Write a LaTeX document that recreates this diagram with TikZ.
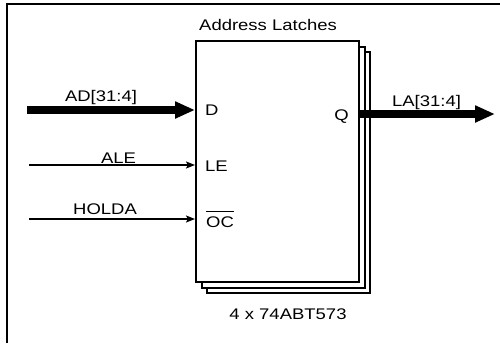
\documentclass[tikz,border=0pt]{standalone}
\usepackage{fontspec}
\setmainfont[FakeStretch=1.2]{Liberation Sans}
\usetikzlibrary{arrows.meta}
\begin{document}
\begin{tikzpicture}[x=1pt,y=-1pt,
  box/.style={draw, line width=2pt, fill=white, minimum width=163pt, minimum height=241pt, inner sep=0pt},
  lbl/.style={font=\fontsize{15.4}{18}\selectfont, inner sep=0pt, anchor=base},
  bus/.style={line width=7.5pt, -{Triangle[length=20pt,width=16pt]}},
  sig/.style={line width=1.8pt, -{Stealth[length=9pt,width=7pt,inset=2pt]}},
  frame/.style={line width=2pt}]
\useasboundingbox (0,0) rectangle (500,343);
% outer frame (top and left edges visible)
\draw[frame] (7,343) -- (7,3.5) -- (500,3.5);
% stacked latch boxes
\node[box] (b3) at (288.5,172.5) {};
\node[box] (b2) at (283.5,167.5) {};
\node[box] (latch) at (277.5,161.5) {};
% texts
\node[lbl] (title) at (268,30.5) {Address Latches};
\node[lbl] (part) at (288,319) {4 x 74ABT573};
\node[lbl] (adl) at (101,101) {AD[31:4]};
\node[lbl] (alel) at (118.5,163) {ALE};
\node[lbl] (holdal) at (105,214) {HOLDA};
\node[lbl] (lal) at (426.5,106) {LA[31:4]};
\node[lbl, anchor=base west] (pinD) at (205,115) {D};
\node[lbl, anchor=base west] (pinLE) at (205,171.5) {LE};
\node[lbl, anchor=base west] (pinOC) at (206,227.5) {OC};
\node[lbl, anchor=base east] (pinQ) at (349,120) {Q};
\draw[line width=1.5pt] ([yshift=5pt]pinOC.north west) -- ([yshift=5pt]pinOC.north east);
% connectors
\coordinate (adst) at (27,110);
\coordinate (alest) at (29,165);
\coordinate (holdst) at (29,219);
\coordinate (laend) at (495,114);
\draw[bus] (adst) -- (latch.west |- adst);
\draw[sig] (alest) -- (latch.west |- alest);
\draw[sig] (holdst) -- (latch.west |- holdst);
\draw[bus] (latch.east |- laend) -- (laend);
\end{tikzpicture}
\end{document}
